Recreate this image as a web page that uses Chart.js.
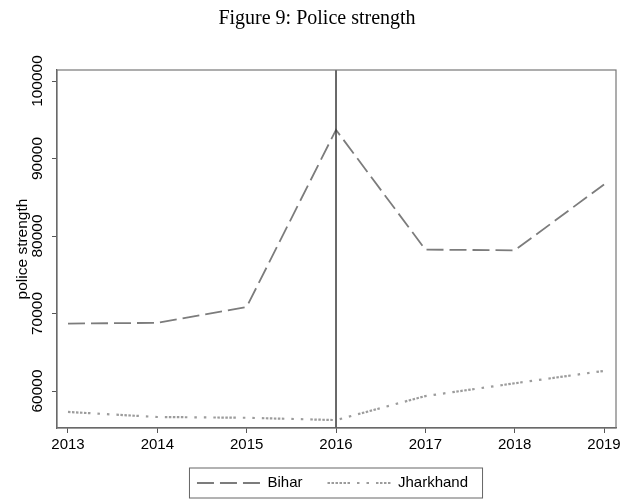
<!DOCTYPE html>
<html>
<head>
<meta charset="utf-8">
<script src="https://cdn.jsdelivr.net/npm/chart.js@4"></script>
<style>
  html, body { margin: 0; padding: 0; background: #fff; }
  #wrap { position: relative; width: 624px; height: 499px; }
  #caption {
    position: absolute; left: 0; top: 6px; width: 634px;
    text-align: center; font: 20px "Liberation Serif", serif; color: #000;
  }
</style>
</head>
<body>
<div id="wrap">
  <canvas id="policeChart" width="624" height="499"></canvas>
  <div id="caption">Figure 9: Police strength</div>
</div>
<script>
const years = [2013, 2014, 2015, 2016, 2017, 2018, 2019];
const bihar = [68700, 68800, 70850, 93700, 78250, 78150, 86650];
const jharkhand = [57300, 56650, 56550, 56250, 59350, 61000, 62600];
const yTicks = [60000, 70000, 80000, 90000, 100000];
const splitYear = 2016;

const toPoints = vals => vals.map((v, i) => ({ x: years[i], y: v }));

// vertical reference line plus the frame around the plot and the legend
const extras = {
    id: 'extras',
    afterLayout(chart) {
        // pull the legend row a little closer to the axis labels
        chart.legend.top -= 4.5;
        chart.legend.bottom -= 4.5;
        chart.legend.left -= 4;
        chart.legend.right -= 4;
    },
    afterDatasetsDraw(chart) {
        const { ctx, chartArea: a, scales } = chart;
        const x = scales.x.getPixelForValue(splitYear);
        ctx.save();
        ctx.strokeStyle = '#383838';
        ctx.lineWidth = 1.5;
        ctx.beginPath();
        ctx.moveTo(x, a.top);
        ctx.lineTo(x, a.bottom);
        ctx.stroke();

        ctx.strokeStyle = '#777';
        ctx.lineWidth = 1.2;
        ctx.strokeRect(a.left, a.top, a.right - a.left, a.bottom - a.top);
        ctx.restore();
    },
    afterDraw(chart) {
        const boxes = chart.legend.legendHitBoxes;
        if (!boxes || !boxes.length) return;
        const first = boxes[0], last = boxes[boxes.length - 1];
        const ctx = chart.ctx;
        ctx.save();
        ctx.strokeStyle = '#666';
        ctx.lineWidth = 1;
        ctx.strokeRect(first.left - 7.5, first.top - 7.5, last.left + last.width - first.left + 22, first.height + 15);
        ctx.restore();
    }
};

new Chart(document.getElementById('policeChart').getContext('2d'), {
    type: 'line',
    data: {
        datasets: [{
            label: 'Bihar',
            data: toPoints(bihar),
            borderColor: '#7c7c7c',
            borderWidth: 1.8,
            borderDash: [17, 6],
            pointRadius: 0,
            tension: 0
        }, {
            label: 'Jharkhand',
            data: toPoints(jharkhand),
            borderColor: '#9c9c9c',
            borderWidth: 2.2,
            borderDash: [2.5, 1.5, 2.5, 1.5, 2.5, 1.5, 2.5, 1.5, 2.5, 1.5, 2.5, 7, 2.5, 7, 2.5, 7],
            pointRadius: 0,
            tension: 0
        }]
    },
    options: {
        responsive: false,
        animation: false,
        layout: { padding: { left: 0, right: 8, top: 70, bottom: -6 } },
        plugins: {
            legend: {
                position: 'bottom',
                fullSize: false,
                labels: {
                    usePointStyle: true,
                    pointStyle: 'line',
                    pointStyleWidth: 63,
                    color: '#000',
                    font: { family: 'Liberation Sans', size: 15 },
                    padding: 25,
                    generateLabels(chart) {
                        const items = Chart.defaults.plugins.legend.labels.generateLabels(chart);
                        items.forEach(it => {
                            const ds = chart.data.datasets[it.datasetIndex];
                            it.lineDash = ds.borderDash;
                            it.lineWidth = ds.borderWidth;
                            it.strokeStyle = ds.borderColor;
                        });
                        return items;
                    }
                }
            },
            tooltip: { enabled: false }
        },
        scales: {
            x: {
                type: 'linear',
                min: 2012.877,
                max: 2019.134,
                afterBuildTicks: s => { s.ticks = years.map(v => ({ value: v })); },
                afterFit: s => { s.height = 27; },
                grid: { drawOnChartArea: false, drawTicks: true, tickLength: 5, color: '#555' },
                border: { color: '#555', width: 1.2 },
                ticks: {
                    color: '#000',
                    font: { family: 'Liberation Sans', size: 15 },
                    padding: 3,
                    maxRotation: 0,
                    callback: v => String(v)
                }
            },
            y: {
                min: 55230,
                max: 101420,
                afterBuildTicks: s => { s.ticks = yTicks.map(v => ({ value: v })); },
                afterFit: s => { s.width = 57; },
                grid: { drawOnChartArea: false, drawTicks: true, tickLength: 5, color: '#555' },
                border: { color: '#555', width: 1.2 },
                title: {
                    display: true,
                    text: 'police strength',
                    color: '#000',
                    font: { family: 'Liberation Sans', size: 15.5 },
                    padding: { top: 13, bottom: 0 }
                },
                ticks: {
                    color: '#000',
                    font: { family: 'Liberation Sans', size: 15.5 },
                    minRotation: 90,
                    maxRotation: 90,
                    crossAlign: 'center',
                    padding: -11.4,
                    callback: v => String(v)
                }
            }
        }
    },
    plugins: [extras]
});
</script>
</body>
</html>
